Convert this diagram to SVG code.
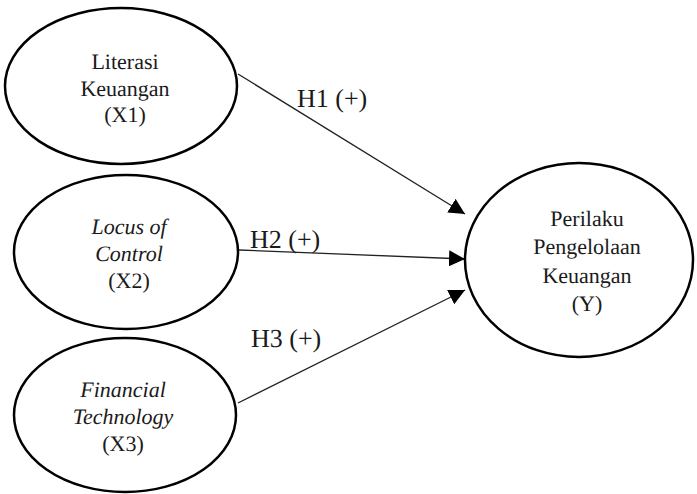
<svg xmlns="http://www.w3.org/2000/svg" width="697" height="494" viewBox="0 0 697 494">
<defs>
<style>
.node ellipse{fill:#fff;stroke:#000;stroke-width:2.5}
.t{font-size:22px;text-anchor:middle}
.i{font-style:italic}
.lbl{font-size:26px}
.edge{stroke:#222;stroke-width:1.3;fill:none;marker-end:url(#ah)}
</style>
<marker id="ah" markerUnits="userSpaceOnUse" markerWidth="16" markerHeight="16" viewBox="0 0 16 16" refX="16" refY="8" orient="auto">
<path d="M0,0 L16,8 L0,16 Z" fill="#000"/>
</marker>
</defs>
<rect width="697" height="494" fill="#fff"/>
<g font-family="Liberation Serif" fill="#1a1a1a" text-rendering="geometricPrecision" style="text-rendering:geometricPrecision">
<g id="connectors">
<line class="edge" x1="238" y1="74" x2="465" y2="214"/>
<line class="edge" x1="239" y1="250" x2="465" y2="259"/>
<line class="edge" x1="238" y1="403" x2="465" y2="290"/>
<text class="lbl" x="297" y="107" style="text-rendering:geometricPrecision">H1 (+)</text>
<text class="lbl" x="250" y="248" style="text-rendering:geometricPrecision">H2 (+)</text>
<text class="lbl" x="251" y="347" style="text-rendering:geometricPrecision">H3 (+)</text>
</g>
<g id="x1" class="node">
<ellipse cx="121" cy="86" rx="116" ry="78"/>
<text class="t" x="125" y="69" style="text-rendering:geometricPrecision">Literasi</text>
<text class="t" x="125" y="96" style="text-rendering:geometricPrecision">Keuangan</text>
<text class="t" x="125" y="122" style="text-rendering:geometricPrecision">(X1)</text>
</g>
<g id="x2" class="node">
<ellipse cx="126" cy="252" rx="112" ry="77"/>
<text class="t i" x="129" y="234" style="text-rendering:geometricPrecision">Locus of</text>
<text class="t i" x="129" y="261" style="text-rendering:geometricPrecision">Control</text>
<text class="t" x="129" y="288" style="text-rendering:geometricPrecision">(X2)</text>
</g>
<g id="x3" class="node">
<ellipse cx="125" cy="415" rx="111" ry="77"/>
<text class="t i" x="123" y="397" style="text-rendering:geometricPrecision">Financial</text>
<text class="t i" x="123" y="424" style="text-rendering:geometricPrecision">Technology</text>
<text class="t" x="123" y="451" style="text-rendering:geometricPrecision">(X3)</text>
</g>
<g id="y" class="node">
<ellipse cx="579" cy="260" rx="114" ry="97"/>
<text class="t" x="587" y="226" style="text-rendering:geometricPrecision">Perilaku</text>
<text class="t" x="587" y="254" style="text-rendering:geometricPrecision">Pengelolaan</text>
<text class="t" x="587" y="283" style="text-rendering:geometricPrecision">Keuangan</text>
<text class="t" x="587" y="311" style="text-rendering:geometricPrecision">(Y)</text>
</g>
</g>
</svg>
